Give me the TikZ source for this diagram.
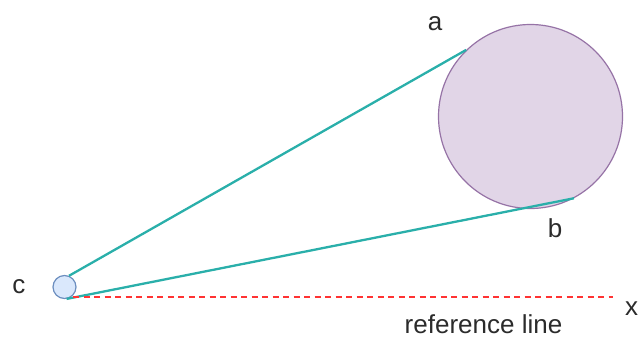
\documentclass[tikz,border=0pt]{standalone}
\usepackage{fontspec}
\setmainfont{Liberation Sans}
\definecolor{tealline}{HTML}{2AAFAA}
\definecolor{purfill}{HTML}{E1D5E7}
\definecolor{purdraw}{HTML}{9673A6}
\definecolor{bluefill}{HTML}{DAE8FC}
\definecolor{bluedraw}{HTML}{6C8EBF}
\definecolor{txt}{HTML}{2B2B2B}
\definecolor{refred}{HTML}{FF3333}
\tikzset{
  lbl/.style={anchor=base, text=txt, font=\fontsize{26}{31}\selectfont, inner sep=0pt},
  tangent/.style={draw=tealline, line width=2.3pt},
  refline/.style={draw=refred, line width=2pt, dash pattern=on 6pt off 4.5pt},
}
\begin{document}
\begin{tikzpicture}[x=1pt,y=-1pt]
\useasboundingbox (0,0) rectangle (639,340);
\node[circle, fill=purfill, draw=purdraw, line width=1.2pt, minimum size=184pt, inner sep=0pt] (big) at (530.5,116.5) {};
\node[circle, fill=bluefill, draw=bluedraw, line width=1.2pt, minimum size=23pt, inner sep=0pt] (c0) at (64.5,287) {};
\draw[tangent] (c0.68) -- (big.134);
\draw[tangent] (c0.-80) -- (big.-62);
\coordinate (xend) at (613,297);
\draw[refline] (c0.-45 |- xend) -- (xend);
\node[lbl] (la) at (435,30) {a};
\node[lbl] (lb) at (555,237) {b};
\node[lbl] (lc) at (19,293) {c};
\node[lbl] (lx) at (631.5,315) {x};
\node[lbl] (lref) at (483.5,333) {reference line};
\end{tikzpicture}
\end{document}
